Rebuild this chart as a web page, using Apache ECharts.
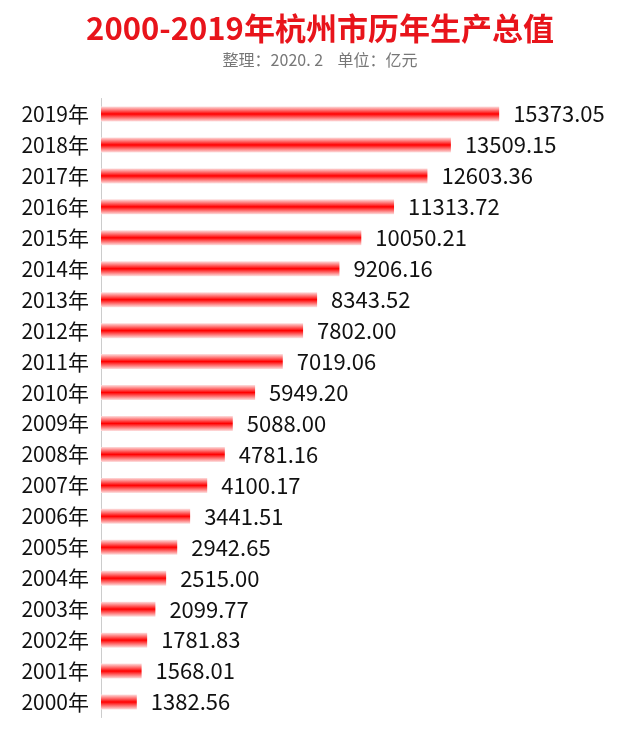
<!DOCTYPE html><html><head><meta charset="utf-8"><script src="https://cdn.jsdelivr.net/npm/echarts@6/dist/echarts.min.js"></script></head><body style="margin:0"><div id="c" style="width:640px;height:738px"></div><script>
const categories=['2000年','2001年','2002年','2003年','2004年','2005年','2006年','2007年','2008年','2009年','2010年','2011年','2012年','2013年','2014年','2015年','2016年','2017年','2018年','2019年'];
const values=[1382.56,1568.01,1781.83,2099.77,2515.00,2942.65,3441.51,4100.17,4781.16,5088.00,5949.20,7019.06,7802.00,8343.52,9206.16,10050.21,11313.72,12603.36,13509.15,15373.05];
const font='"Microsoft YaHei","Noto Sans CJK SC",sans-serif';
const ch=echarts.init(document.getElementById('c'));
ch.setOption({
 backgroundColor:'#fff',
 title:{text:'2000-2019年杭州市历年生产总值',subtext:'整理：2020. 2    单位：亿元',left:'center',top:8,itemGap:8,
  textStyle:{color:'#e8141b',fontSize:31,fontWeight:'bold',fontFamily:font},
  subtextStyle:{color:'#777',fontSize:16,fontFamily:font}},
 grid:{left:101,right:21,top:98.5,bottom:20.5},
 xAxis:{type:'value',min:0,max:20000,show:false},
 yAxis:{type:'category',data:categories,axisTick:{show:false},axisLine:{lineStyle:{color:'#ccc'}},
  axisLabel:{color:'#111',fontSize:21,fontFamily:font,margin:12}},
 series:[{type:'bar',data:values,barWidth:15,
  itemStyle:{color:new echarts.graphic.LinearGradient(0,0,0,1,[{offset:0,color:'#fde0e0'},{offset:0.5,color:'#ff0000'},{offset:1,color:'#fde0e0'}])},
  label:{show:true,position:'right',distance:14,color:'#111',fontSize:22,fontFamily:font,formatter:p=>p.value.toFixed(2)}}]
});
</script></body></html>
